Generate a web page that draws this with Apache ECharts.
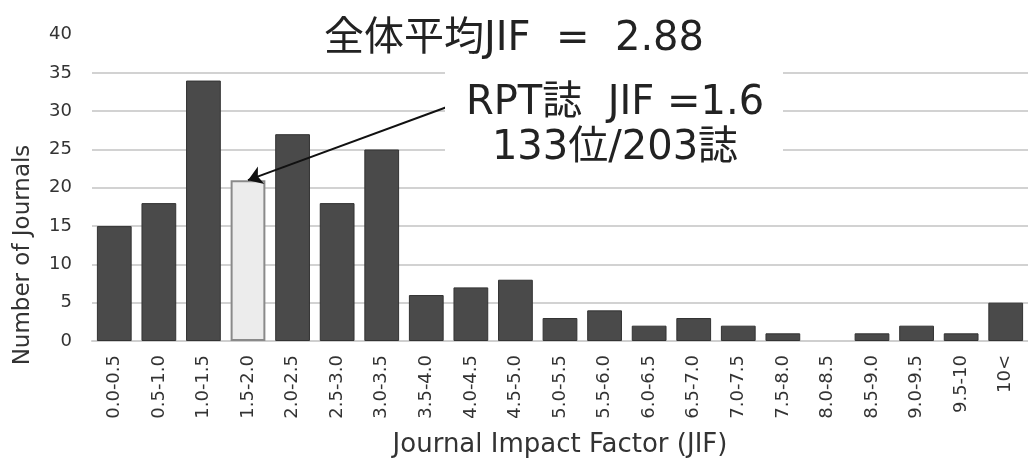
<!DOCTYPE html>
<html>
<head>
<meta charset="utf-8">
<script src="https://cdn.jsdelivr.net/npm/echarts@6/dist/echarts.min.js"></script>
<style>
  html, body { margin: 0; padding: 0; background: #fff; }
  #chart { width: 1028px; height: 467px; }
</style>
</head>
<body>
<div id="chart"></div>
<script>
// JIF ranges on the x axis
const categories = ['0.0-0.5', '0.5-1.0', '1.0-1.5', '1.5-2.0', '2.0-2.5', '2.5-3.0', '3.0-3.5',
  '3.5-4.0', '4.0-4.5', '4.5-5.0', '5.0-5.5', '5.5-6.0', '6.0-6.5', '6.5-7.0', '7.0-7.5',
  '7.5-8.0', '8.0-8.5', '8.5-9.0', '9.0-9.5', '9.5-10', '10<'];
// number of journals per range (total 203)
const journals = [15, 18, 34, 21, 27, 18, 25, 6, 7, 8, 3, 4, 2, 3, 2, 1, 0, 1, 2, 1, 5];
const highlight = '1.5-2.0';   // RPT誌
const highlightValue = 21;

const fontMix = '"DejaVu Sans", "Noto Sans CJK JP"';

const myChart = echarts.init(document.getElementById('chart'));

const barData = journals.map(function (v, i) {
  if (categories[i] === highlight) {
    return { value: v, itemStyle: { color: '#ececec', borderColor: '#8a8a8a', borderWidth: 2 } };
  }
  if (v === 0) {
    // no border line for an empty bin
    return { value: v, itemStyle: { borderWidth: 0, opacity: 0 } };
  }
  return v;
});

myChart.setOption({
  animation: false,
  title: {
    text: '全体平均JIF  =  2.88',
    left: 'center',
    top: 15,
    textStyle: { fontFamily: fontMix, fontSize: 40, fontWeight: 'normal', color: '#222' }
  },
  grid: { left: 92, right: -8, top: 34.6, bottom: 126 },
  xAxis: {
    type: 'category',
    data: categories,
    name: 'Journal Impact Factor (JIF)',
    nameLocation: 'middle',
    nameGap: 91,
    nameTextStyle: { fontFamily: 'DejaVu Sans', fontSize: 26, color: '#333', verticalAlign: 'top' },
    axisLine: { lineStyle: { color: '#cfcfcf', width: 2 } },
    axisTick: { show: false },
    axisLabel: { rotate: 90, margin: 14, fontFamily: 'DejaVu Sans', fontSize: 18, color: '#333', interval: 0 }
  },
  yAxis: {
    type: 'value',
    min: 0,
    max: 40,
    interval: 5,
    axisLine: { show: false },
    axisTick: { show: false },
    axisLabel: { margin: 20, fontFamily: 'DejaVu Sans', fontSize: 18, color: '#333' },
    splitLine: { show: true, showMaxLine: false, lineStyle: { color: '#d2d2d2', width: 2 } }
  },
  graphic: [
    {
      type: 'text',
      x: 23, y: 255,
      rotation: Math.PI / 2,
      style: {
        text: 'Number of Journals',
        x: 0, y: 0,
        align: 'center', verticalAlign: 'middle',
        font: '23px "DejaVu Sans"',
        fill: '#333'
      }
    },
    {
      type: 'rect',
      z: 99,
      shape: { x: 445, y: 60, width: 338, height: 108 },
      style: { fill: '#fff' }
    },
    {
      type: 'text',
      z: 100,
      x: 615, y: 81,
      style: {
        text: 'RPT誌  JIF =1.6\n133位/203誌',
        x: 0, y: 0,
        align: 'center', verticalAlign: 'top',
        font: '40px ' + fontMix,
        lineHeight: 45,
        fill: '#222'
      }
    }
  ],
  series: [
    {
      type: 'bar',
      data: barData,
      barCategoryGap: '22%',
      itemStyle: { color: '#4a4a4a', borderColor: '#333', borderWidth: 1 },
      silent: true,
      markLine: {
        silent: true,
        symbol: ['none', 'arrow'],
        symbolSize: 14,
        label: { show: false },
        lineStyle: { color: '#111', width: 2, type: 'solid' },
        data: [[{ x: 447, y: 107 }, { coord: [highlight, highlightValue] }]]
      }
    }
  ]
});
</script>
</body>
</html>
